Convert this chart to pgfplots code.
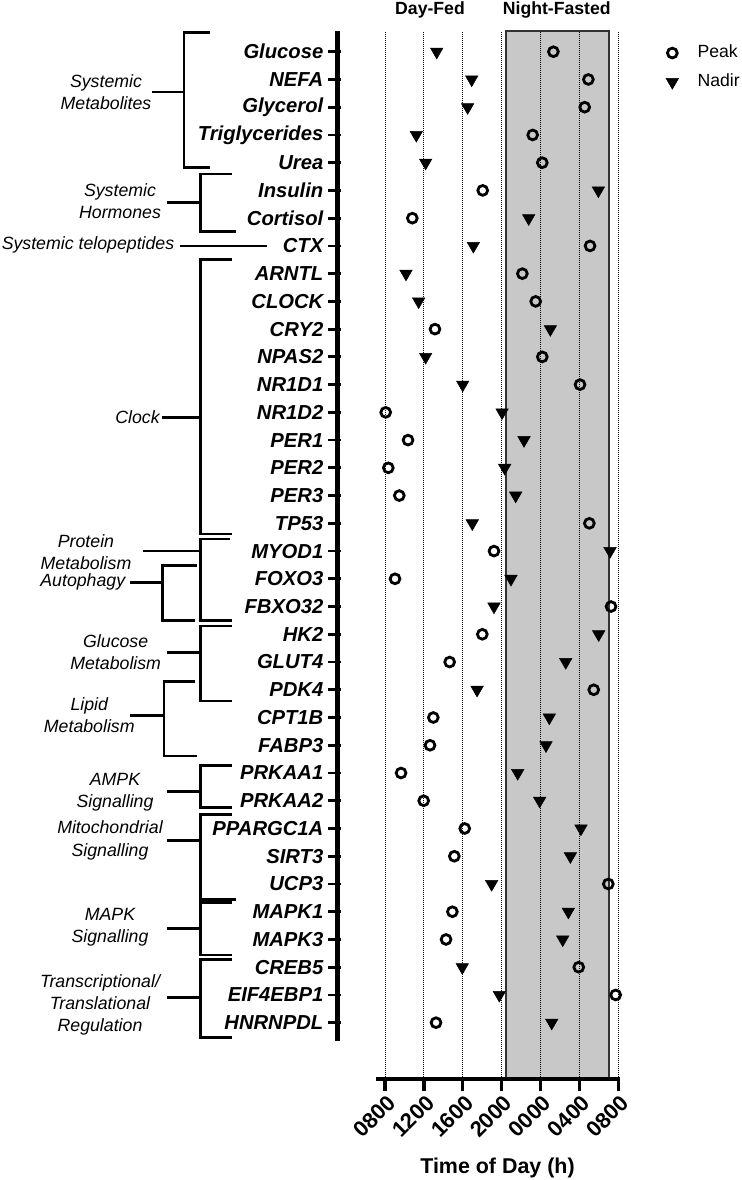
\documentclass[border=0pt]{standalone}
\usepackage{fontspec}
\setmainfont{Liberation Sans}
\usepackage{pgfplots}
\pgfplotsset{compat=1.18}
\definecolor{boxgray}{RGB}{200,200,200}
\newcommand\catfont{\fontsize{20.3}{24}\selectfont\bfseries\itshape}
\newcommand\grpfont{\fontsize{17.8}{22.3}\selectfont\itshape}
\newcommand\titfont{\fontsize{17.7}{21}\selectfont\bfseries}
\begin{document}
\begin{tikzpicture}
\useasboundingbox (0,0) rectangle (742bp,1180bp);
\begin{axis}[
  at={(337.5bp,101bp)}, anchor=south west,
  scale only axis, width=281.5bp, height=1048bp,
  xmin=3.113, xmax=32.07, ymin=-1.03, ymax=36.746,
  clip=false,
  axis line style={draw=none},
  xtick={8,12,16,20,24,28,32},
  xticklabels={0800,1200,1600,2000,0000,0400,0800},
  ytick={1,...,36},
  yticklabels={HNRNPDL,EIF4EBP1,CREB5,MAPK3,MAPK1,UCP3,SIRT3,PPARGC1A,PRKAA2,PRKAA1,FABP3,CPT1B,PDK4,GLUT4,HK2,FBXO32,FOXO3,MYOD1,TP53,PER3,PER2,PER1,NR1D2,NR1D1,NPAS2,CRY2,CLOCK,ARNTL,CTX,Cortisol,Insulin,Urea,Triglycerides,Glycerol,NEFA,Glucose},
  xtick pos=left, ytick pos=left,
  tick align=outside,
  major tick length=12.5bp,
  tick style={line width=2.8bp, black},
  xtick style={line width=3.3bp},
  ytick style={xshift=3.3bp},
  yticklabel style={font=\catfont, inner sep=1.5bp},
  xticklabel style={font=\fontsize{22}{26}\selectfont\bfseries, rotate=45, anchor=east, inner sep=2bp, xshift=1.5bp, yshift=-10bp},
  legend style={at={(axis description cs:1.156,0.9892)}, anchor=north west, draw=none, fill=none,
    font=\fontsize{17.7}{21}\selectfont, column sep=19bp, row sep=12bp,
    nodes={inner sep=0bp, text height=13bp, text depth=4bp}},
  legend cell align=left,
]
\fill[fill=boxgray, draw=black!80, line width=1.2bp] (axis cs:20.45,-1.03) rectangle (axis cs:31.05,36.746);
\pgfplotsinvokeforeach{8,12,16,20,24,28,32}{
  \draw[black, line width=0.8bp, dash pattern=on 0.9bp off 1.1bp] (axis cs:#1,-1.03) -- (axis cs:#1,36.746);
}
\addplot[only marks, line width=2.8bp, mark=o, mark size=4.9bp, mark options={line width=2.8bp, draw=black}] table {
x y
25.32 36
28.92 35
28.54 34
23.19 33
24.18 32
18.05 31
10.81 30
29.09 29
22.13 28
23.50 27
13.14 26
24.18 25
28.06 24
8.07 23
10.37 22
8.34 21
9.47 20
29.02 19
19.21 18
9.03 17
31.25 16
18.01 15
14.65 14
29.47 13
12.97 12
12.63 11
9.65 10
11.98 9
16.20 8
15.13 7
30.97 6
14.93 5
14.28 4
27.93 3
31.73 2
13.25 1
};
\addlegendentry{Peak}
\addplot[only marks, mark=triangle*, mark size=7.2bp, mark options={rotate=180, fill=black, draw=black, line width=0.5bp}] table {
x y
13.32 36
16.92 35
16.50 34
11.22 33
12.18 32
29.95 31
22.78 30
17.09 29
10.16 28
11.46 27
25.01 26
12.18 25
15.99 24
20.04 23
22.30 22
20.31 21
21.44 20
16.98 19
31.15 18
20.96 17
19.21 16
29.98 15
26.59 14
17.47 13
24.90 12
24.56 11
21.65 10
23.91 9
28.16 8
27.07 7
18.97 6
26.86 5
26.28 4
15.95 3
19.76 2
25.15 1
};
\addlegendentry{Nadir}
\draw[black, line width=5bp] (axis cs:3.113,0.35) -- (axis cs:3.113,36.746);
\draw[black, line width=4bp] (axis cs:7.07,-1.03) -- (axis cs:32.2,-1.03);
\end{axis}
\begin{scope}[x=1bp, y=-1bp, shift={(0bp,1180bp)}]
\node[font=\titfont, anchor=base] at (430,15) {Day-Fed};
\node[font=\titfont, anchor=base] at (556.8,15) {Night-Fasted};
\node[font=\fontsize{21.5}{25}\selectfont\bfseries, anchor=base] at (497.5,1173.3) {Time of Day (h)};
\begin{scope}[line width=2.5bp, black]
\draw (210,32.3) -- (184,32.3) -- (184,167.3) -- (210,167.3); \draw (151.7,92) -- (184,92);
\draw (231.7,174) -- (200.3,174) -- (200.3,231.7) -- (236,231.7); \draw (166.7,202.3) -- (200.3,202.3);
\draw[line width=2bp] (180,246) -- (266.7,246);
\draw (232,259.3) -- (200.3,259.3) -- (200.3,533.8) -- (232,533.8); \draw (161.7,417.3) -- (200.3,417.3);
\draw (230,539) -- (200.3,539) -- (200.3,620.3) -- (232,620.3); \draw (142.7,551) -- (200.3,551);
\draw (196.7,565.3) -- (162.7,565.3) -- (162.7,620.5) -- (195,620.5); \draw (130,582.7) -- (162.7,582.7);
\draw (232,626) -- (200.3,626) -- (200.3,701) -- (232,701); \draw (166.7,652.7) -- (200.3,652.7);
\draw (195,681.7) -- (164,681.7) -- (164,756) -- (196.7,756); \draw (130,715.7) -- (164,715.7);
\draw (232,765.7) -- (200.3,765.7) -- (200.3,807.3) -- (232,807.3); \draw (166.7,791.7) -- (200.3,791.7);
\draw (232,814.3) -- (200.3,814.3) -- (200.3,899.3) -- (236,899.3); \draw (166.7,840.7) -- (200.3,840.7);
\draw (232,902.7) -- (200.3,902.7) -- (200.3,955) -- (232,955); \draw (166.7,928.3) -- (200.3,928.3);
\draw (232,959.3) -- (200.3,959.3) -- (200.3,1037.3) -- (232,1037.3); \draw (166.7,997.7) -- (200.3,997.7);
\end{scope}
\begin{scope}[every node/.style={font=\grpfont, align=center, inner sep=0pt}]
\node at (106,92.5) {Systemic\\Metabolites};
\node at (120,201.3) {Systemic\\Hormones};
\node at (88,245) {Systemic telopeptides};
\node at (137.5,417.3) {Clock};
\node at (86,551.8) {Protein\\Metabolism};
\node at (82.8,581.7) {Autophagy};
\node at (115.7,652) {Glucose\\Metabolism};
\node at (89.3,715.2) {Lipid\\Metabolism};
\node at (115,792.5) {AMPK\\Signalling};
\node at (110,840.5) {Mitochondrial\\Signalling};
\node at (110,927.5) {MAPK\\Signalling};
\node at (100,1005.2) {Transcriptional/\\Translational\\Regulation};
\end{scope}
\end{scope}
\end{tikzpicture}
\end{document}
